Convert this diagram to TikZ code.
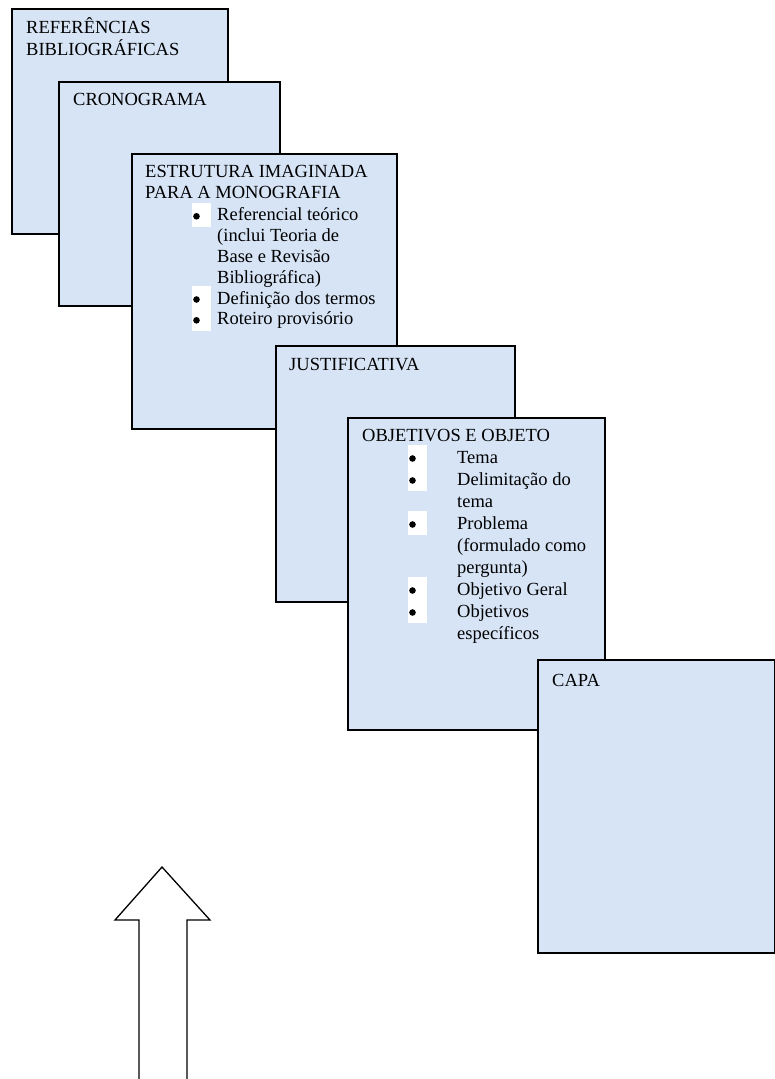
\documentclass[tikz,border=0pt]{standalone}
\usepackage{fontspec}
\setmainfont{Liberation Serif}
\usetikzlibrary{positioning}
\definecolor{paperblue}{RGB}{214,228,246}

\begin{document}
\begin{tikzpicture}[x=1pt, y=-1pt]
        \tikzstyle{page}=[draw, line width=1.8pt, fill=paperblue, anchor=north west, inner sep=0pt]
        \tikzstyle{txt}=[anchor=base west, inner sep=0pt, font=\fontsize{18.5}{21}\selectfont]
        \tikzstyle{bul}=[fill=white, inner sep=0pt, minimum width=19pt, minimum height=24pt,
            path picture={\fill[black] ([xshift=-5pt, yshift=-1.5pt]path picture bounding box.center) circle (3.3pt);}]

        \useasboundingbox (0,0) rectangle (774,1079);

        % Stacked pages, back to front
        \node[page, minimum width=216pt, minimum height=225pt] (refs) at (11,8) {};
        \node[txt] (refs1) at ([xshift=15pt, yshift=-25pt]refs.north west) {REFERÊNCIAS};
        \node[txt] (refs2) at ([yshift=-22pt]refs1.base west) {BIBLIOGRÁFICAS};

        \node[page, minimum width=221pt, minimum height=224pt] (crono) at (58,81) {};
        \node[txt] (crono1) at ([xshift=15pt, yshift=-24pt]crono.north west) {CRONOGRAMA};

        \node[page, minimum width=265pt, minimum height=275pt] (estr) at (131,153) {};
        \node[txt] (estr1) at ([xshift=14pt, yshift=-24pt]estr.north west) {ESTRUTURA IMAGINADA};
        \node[txt] (estr2) at ([yshift=-21pt]estr1.base west) {PARA A MONOGRAFIA};
        \foreach \txt [count=\i] in {{Referencial teórico}, {(inclui Teoria de}, {Base e Revisão}, {Bibliográfica)}, {Definição dos termos}, {Roteiro provisório}}
            \node[txt] (estr-\i) at (217, {200+20.8*\i}) {\txt};
        \foreach \i in {1,5,6}
            \node[bul] (estrb-\i) at ([xshift=-15.5pt, yshift=6pt]estr-\i.base west) {};

        \node[page, minimum width=239pt, minimum height=256pt] (just) at (275,345) {};
        \node[txt] (just1) at ([xshift=14pt, yshift=-25pt]just.north west) {JUSTIFICATIVA};

        \node[page, minimum width=257pt, minimum height=312pt] (obj) at (347,417) {};
        \node[txt] (obj1) at ([xshift=15pt, yshift=-24pt]obj.north west) {OBJETIVOS E OBJETO};
        \foreach \txt [count=\i] in {{Tema}, {Delimitação do}, {tema}, {Problema}, {(formulado como}, {pergunta)}, {Objetivo Geral}, {Objetivos}, {específicos}}
            \node[txt] (obj-\i) at (457, {441+22*\i}) {\txt};
        \foreach \i in {1,2,4,7,8}
            \node[bul] (objb-\i) at ([xshift=-39.5pt, yshift=6pt]obj-\i.base west) {};

        \node[page, minimum width=237pt, minimum height=293pt] (capa) at (537,659) {};
        \node[txt] (capa1) at ([xshift=15pt, yshift=-27pt]capa.north west) {CAPA};

        % Hollow arrow pointing up
        \draw[line width=1.3pt] (139,1079) -- (139,920) -- (115,920) -- (162,867)
            -- (210,920) -- (187,920) -- (187,1079);
\end{tikzpicture}
\end{document}
